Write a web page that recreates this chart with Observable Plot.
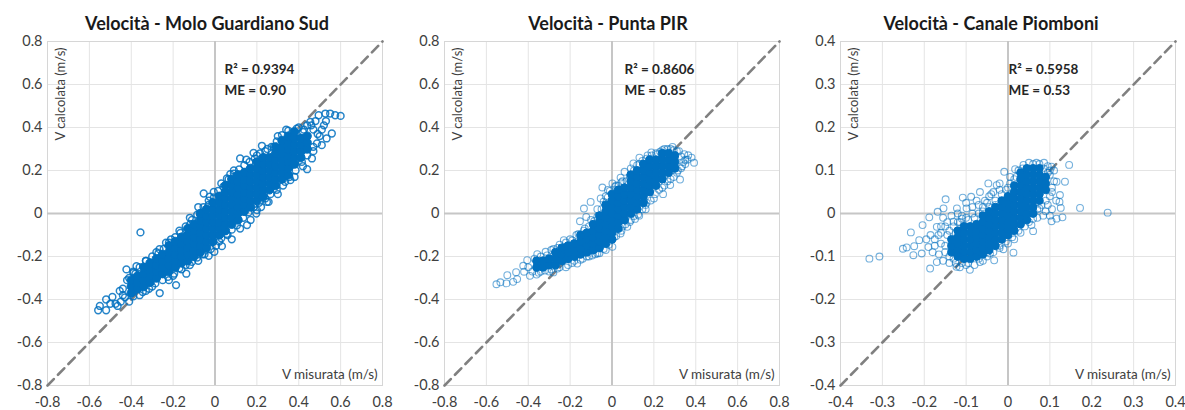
<!DOCTYPE html>
<html><head><meta charset="utf-8">
<script src="https://cdn.jsdelivr.net/npm/d3@7"></script>
<script src="https://cdn.jsdelivr.net/npm/@observablehq/plot@0.6"></script>
<style>html,body{margin:0;background:#fff;width:1185px;height:410px;overflow:hidden}
#c{position:relative;width:1185px;height:410px}#c svg{position:absolute;top:0;overflow:visible;background:transparent}</style>
</head><body><div id="c"></div>
<script>
const titles = ["Velocità - Molo Guardiano Sud","Velocità - Punta PIR","Velocità - Canale Piomboni"];
const r2Labels = ["R² = 0.9394","R² = 0.8606","R² = 0.5958"];
const meLabels = ["ME = 0.90","ME = 0.85","ME = 0.53"];
const ticksWide = [-0.8,-0.6,-0.4,-0.2,0,0.2,0.4,0.6,0.8];
const ticksNarrow = [-0.4,-0.3,-0.2,-0.1,0,0.1,0.2,0.3,0.4];

// dense cores: x value, then the y values read along that column
const moloCore = [
[-.40,[-.37,-.34,-.31]],[-.37,[-.35,-.32,-.29]],[-.34,[-.34,-.31,-.28,-.25]],[-.31,[-.32,-.29,-.26,-.23]],
[-.28,[-.30,-.27,-.24,-.21]],[-.25,[-.28,-.25,-.22,-.19]],[-.22,[-.27,-.24,-.21,-.18,-.15]],[-.19,[-.25,-.22,-.19,-.16,-.13]],
[-.16,[-.23,-.20,-.17,-.14,-.11]],[-.13,[-.22,-.19,-.16,-.13,-.10,-.07]],[-.10,[-.20,-.17,-.14,-.11,-.08,-.05]],
[-.07,[-.18,-.15,-.12,-.09,-.06,-.03,0]],[-.04,[-.16,-.13,-.10,-.07,-.04,-.01,.02]],[-.01,[-.13,-.10,-.07,-.04,-.01,.02,.05]],
[.02,[-.10,-.07,-.04,-.01,.02,.05,.08]],[.05,[-.08,-.05,-.02,.01,.04,.07,.10,.13]],[.08,[-.05,-.02,.01,.04,.07,.10,.13,.16]],
[.11,[-.03,0,.03,.06,.09,.12,.15,.18]],[.14,[.01,.04,.07,.10,.13,.16,.19]],[.17,[.03,.06,.09,.12,.15,.18,.21]],
[.20,[.06,.09,.12,.15,.18,.21,.24]],[.23,[.08,.11,.14,.17,.20,.23,.26]],[.26,[.11,.14,.17,.20,.23,.26]],
[.29,[.13,.16,.19,.22,.25,.28,.31]],[.32,[.16,.19,.22,.25,.28,.31,.34]],[.35,[.18,.21,.24,.27,.30,.33,.36]],
[.38,[.23,.26,.29,.32,.35,.38]],[.41,[.26,.29,.32,.35]],[.44,[.30,.33,.36]]];
const moloRing = [[-.558,-.45],[-.55,-.43],[-.52,-.45],[-.52,-.40],[-.49,-.388],[-.475,-.42],[-.465,-.43],[-.455,-.36],[-.423,-.26],[-.375,-.245],[-.356,-.088],[-.41,-.30],[-.39,-.276],[-.264,-.37],[-.265,-.166],[-.234,-.136],[-.118,-.05],[-.07,-.008],[-.186,-.333],[-.137,-.28],[-.03,-.197],[-.003,-.178],[.033,-.152],[.08,-.12],[.153,-.054],[.197,0],[.256,.054],[.6,.454],[.574,.457],[.55,.465],[.527,.465],[.495,.457],[.558,.372],[.533,.349],[.51,.318],[.463,.256],[.44,.206],[.12,.256],[.224,.315],[.184,.282],[.28,.31],[.057,.163],[.073,.183],[-.054,.093],[-.006,.1],[-.025,.078],[.375,.38],[.455,.426],[.36,.155],[.335,.147],[.248,.054],[.2,.016],[.487,.326],
[-.43,-.39],[-.44,-.35],[-.41,-.41],[-.45,-.41],[-.5,-.42],[-.36,-.38],[-.33,-.36],[-.3,-.34],[-.22,-.31],[-.2,-.29],[-.16,-.26],[-.12,-.24],[-.08,-.22],[-.05,-.19],[.02,-.13],[.06,-.1],[.12,-.07],[.17,-.03],[.22,.03],[.3,.09],[.38,.17],[.42,.22],[.47,.29],[.5,.36],[.47,.39],[.52,.41],[.44,.41],[.4,.4],[.34,.39],[.3,.36],[.25,.3],[.2,.27],[.15,.25],[.09,.2],[.03,.14],[-.03,.06],[-.08,.03],[-.12,-.02],[-.17,-.08],[-.21,-.12],[-.28,-.18],[-.33,-.22],[-.38,-.28],
[-.42,-.31],[-.39,-.27],[-.36,-.25],[-.33,-.22],[-.3,-.2],[-.27,-.185],[-.245,-.165],[-.22,-.135],[-.19,-.11],[-.165,-.09],[-.14,-.06],[-.11,-.03],[-.085,-.005],[-.055,.03],[-.03,.04],[-.005,.075],[.015,.105],[.04,.125],[.065,.16],[.09,.185],[.115,.205],[.14,.225],[.165,.24],[.19,.255],[.215,.28],[.24,.29],[.27,.31],[.295,.335],[.32,.365],[.35,.385],[.39,.395],[.425,.39],[.46,.41],
[-.44,-.38],[-.39,-.385],[-.345,-.365],[-.315,-.35],[-.285,-.325],[-.25,-.31],[-.225,-.295],[-.195,-.28],[-.17,-.255],[-.14,-.24],[-.11,-.225],[-.085,-.205],[-.06,-.19],[-.02,-.165],[.005,-.15],[.03,-.115],[.055,-.095],[.08,-.075],[.105,-.055],[.135,-.02],[.16,.005],[.185,.03],[.21,.05],[.24,.07],[.265,.09],[.295,.11],[.325,.13],[.355,.17],[.385,.2],[.415,.24],[.44,.27],[.47,.31],[.49,.37],[.51,.39],[.48,.43],[.53,.43],[.42,.38]];

const pirCore = [
[-.36,[-.25,-.22]],[-.33,[-.25,-.22]],[-.30,[-.24,-.21]],[-.27,[-.24,-.21,-.18]],[-.24,[-.22,-.19,-.16]],[-.21,[-.21,-.18,-.15]],
[-.18,[-.20,-.17,-.14]],[-.15,[-.19,-.16,-.13,-.10]],[-.12,[-.18,-.15,-.12,-.09]],[-.09,[-.17,-.14,-.11,-.08,-.05]],
[-.06,[-.16,-.13,-.10,-.07,-.04,-.01]],[-.03,[-.14,-.11,-.08,-.05,-.02,.01,.04]],[0,[-.12,-.09,-.06,-.03,0,.03,.06,.09]],
[.03,[-.07,-.04,-.01,.02,.05,.08,.11]],[.06,[-.03,0,.03,.06,.09,.12]],[.09,[0,.03,.06,.09,.12,.15,.18]],
[.12,[.02,.05,.08,.11,.14,.17,.20]],[.15,[.05,.08,.11,.14,.17,.20,.23]],[.18,[.10,.13,.16,.19,.22,.25]],
[.21,[.13,.16,.19,.22,.25]],[.24,[.16,.19,.22,.25,.28]],[.27,[.19,.22,.25,.28]],[.30,[.21,.24,.27]]];
const pirRing = [[-.552,-.329],[-.533,-.32],[-.504,-.325],[-.50,-.287],[-.472,-.318],[-.453,-.305],[-.458,-.273],[-.42,-.271],[-.424,-.243],[-.405,-.217],[-.392,-.29],[-.36,-.284],[-.357,-.189],[-.317,-.178],[-.28,-.274],[-.23,-.124],[-.153,-.036],[-.134,.023],[-.102,.054],[-.123,-.016],[-.046,.121],[.002,.14],[-.054,.07],[.041,.167],[.06,.194],[.102,.233],[.131,.26],[.188,.284],[.23,.287],[.289,.31],[.345,.276],[.364,.271],[.392,.236],[.325,.158],[.278,.132],[.244,.09],[.161,.02],[.105,-.012],[.073,-.062],[.041,-.093],[.002,-.155],[-.07,-.186],[-.166,-.233],[-.26,-.256],
[-.38,-.27],[-.4,-.25],[-.37,-.21],[-.34,-.27],[-.3,-.27],[-.29,-.17],[-.26,-.16],[-.22,-.25],[-.19,-.23],[-.2,-.12],[-.17,-.1],[-.14,-.21],[-.11,-.2],[-.13,-.07],[-.1,-.03],[-.07,.02],[-.08,-.19],[-.03,-.17],[-.03,.08],[-.02,.11],[.02,.13],[.01,-.11],[.05,-.06],[.09,-.03],[.13,-.01],[.16,.04],[.2,.07],[.24,.12],[.28,.16],[.31,.19],[.34,.24],[.33,.21],[.36,.25],[.32,.29],[.28,.3],[.25,.3],[.21,.28],[.17,.27],[.13,.23],[.09,.21],[.05,.15],
[-.34,-.2],[-.31,-.195],[-.28,-.165],[-.25,-.145],[-.22,-.135],[-.19,-.125],[-.16,-.095],[-.135,-.08],[-.11,-.06],[-.085,-.035],[-.07,-.015],[-.05,.02],[-.04,.055],[-.02,.075],[-.01,.105],[.015,.125],[.03,.13],[.045,.145],[.07,.15],[.085,.17],[.105,.2],[.12,.225],[.145,.245],[.165,.255],[.19,.27],[.215,.275],[.24,.295],[.265,.3],[.295,.295],[.31,.29],[.33,.265],[.35,.25],[.38,.26],
[-.35,-.275],[-.32,-.265],[-.29,-.26],[-.25,-.25],[-.21,-.24],[-.18,-.22],[-.15,-.215],[-.12,-.2],[-.095,-.195],[-.06,-.185],[-.04,-.165],[-.015,-.145],[.02,-.105],[.045,-.08],[.065,-.05],[.085,-.04],[.11,-.025],[.125,-.005],[.145,.02],[.165,.05],[.185,.06],[.205,.09],[.225,.11],[.25,.13],[.265,.15],[.295,.17],[.315,.2],[.335,.22],[.35,.23]];

const piomCore = [
[-.135,[-.09,-.075,-.06]],[-.12,[-.10,-.085,-.07,-.055,-.04]],[-.105,[-.105,-.09,-.075,-.06,-.045,-.03]],[-.09,[-.105,-.09,-.075,-.06,-.045,-.03]],
[-.075,[-.10,-.085,-.07,-.055,-.04,-.025]],[-.06,[-.095,-.08,-.065,-.05,-.035,-.02,-.005]],[-.045,[-.085,-.07,-.055,-.04,-.025,-.01,.005]],
[-.03,[-.075,-.06,-.045,-.03,-.015,0,.015]],[-.015,[-.06,-.045,-.03,-.015,0,.015,.03]],[0,[-.05,-.035,-.02,-.005,.01,.025,.04]],
[.015,[-.04,-.025,-.01,.005,.02,.035,.05,.065]],[.03,[-.025,-.01,.005,.02,.035,.05,.065,.08,.095]],[.045,[-.015,0,.015,.03,.045,.06,.075,.09,.105]],
[.06,[0,.015,.03,.045,.06,.075,.09,.105]],[.075,[.03,.045,.06,.075,.09,.105]],[.09,[.055,.07,.085]]];
const piomRing = [[-.331,-.105],[-.307,-.10],[-.251,-.082],[-.242,-.079],[-.224,-.076],[-.226,-.097],[-.232,-.044],[-.212,-.062],[-.204,-.027],[-.188,-.009],[-.168,.004],[-.154,.012],[-.149,.033],[-.108,.037],[-.088,.039],[-.186,-.128],[-.17,-.113],[-.123,-.124],[-.091,-.131],[-.067,-.113],[-.033,-.109],[.013,-.091],[.06,-.041],[-.011,-.083],[-.047,.07],[-.027,.066],[-.009,.097],[.017,.103],[.037,.113],[.068,.118],[.086,.118],[.104,.109],[.146,.113],[.136,.074],[.124,.043],[.123,.027],[.126,.013],[.172,.013],[.238,.002],[.13,-.009],[.104,-.018],[.084,-.005],[.116,.074],[.116,-.012],[.056,-.027],[-.17,-.031],[-.166,-.05],[-.206,-.093],[-.19,-.078],[-.043,-.093],[-.099,.012],[-.122,.012],[-.13,-.019],[-.067,.05],
[-.16,-.07],[-.15,-.09],[-.155,-.11],[-.14,-.115],[-.13,-.105],[-.145,-.05],[-.13,-.03],[-.115,-.02],[-.1,-.01],[-.085,0],[-.07,.02],[-.055,.03],[-.04,.045],[-.02,.055],[.005,.07],[.02,.085],[.1,.09],[.105,.06],[.1,.04],[.095,.02],[.09,.005],[.075,.012],[.03,-.045],[.015,-.06],[0,-.07],[-.02,-.08],[-.05,-.1],[-.08,-.12],[-.11,-.115],[-.18,-.09],[-.175,-.06],[-.16,-.03],[.11,.1],[.085,.105],[.07,-.01],
[-.145,-.02],[-.135,-.005],[-.12,.0],[-.11,-.012],[-.1,.025],[-.085,.015],[-.075,.03],[-.06,.015],[-.05,.025],[-.045,.04],[-.03,.03],[-.035,.05],[-.015,.045],[-.02,.07],[-.005,.055],[0,.06],[.005,.085],[.015,.08],[.025,.1],[.035,.105],[.05,.118],[.06,.115],[.075,.115],[.095,.11],[.1,.1],[-.155,-.01],[-.16,-.045],[-.15,-.03],[-.14,-.04],[-.185,-.05],[-.195,-.06],[-.175,-.075],[-.165,-.095],[-.15,-.075],[-.14,-.1],[-.125,-.115],[-.115,-.125],[-.1,-.12],[-.095,-.115],[-.07,-.105],[-.06,-.11],[-.05,-.09],[-.035,-.09],[-.02,-.075],[-.005,-.065],[.01,-.055],[.025,-.04],[.04,-.03],[.05,-.02],[.06,-.012],[.07,.01],[.08,.02],[.09,.03],[.105,.05],[.11,.075],[.095,.095],[.115,.03],[.105,.01],[.1,-.005],[-.125,-.045],[-.12,-.02],[-.11,-.005],[-.095,-.015],[-.08,-.01],[-.07,0],[-.06,.005],[-.045,.015],[-.03,.02]];

const panels = [
 {i:0,left:0,max:.8,ticks:ticksWide,core:moloCore,ring:moloRing,sw:1.5,op:.85,titleDx:-8,noteDx:177,coreR:4.2},
 {i:1,left:397,max:.8,ticks:ticksWide,core:pirCore,ring:pirRing,sw:1.1,op:.55,titleDx:-4,noteDx:180,coreR:4},
 {i:2,left:793,max:.4,ticks:ticksNarrow,core:piomCore,ring:piomRing,sw:1.1,op:.55,titleDx:-17,noteDx:168,coreR:3.9}
];
const blue = "#0070c0", font = "Lato, 'Open Sans', sans-serif";
for (const p of panels) {
  const coreData = p.core.flatMap(([x, ys]) => ys.map(y => [x, y]));
  const fmt = d => d === 0 ? "0" : d.toFixed(1);
  const lim = [-p.max, p.max];
  const svg = Plot.plot({
    width: 395, height: 410, marginLeft: 47, marginRight: 13, marginTop: 41, marginBottom: 25,
    style: {fontFamily: font, background: "transparent", overflow: "visible"},
    x: {domain: lim, label: null},
    y: {domain: lim, label: null},
    marks: [
      Plot.gridX(p.ticks, {stroke: "#e4e4e4", strokeOpacity: 1, strokeWidth: 1}),
      Plot.gridY(p.ticks, {stroke: "#e4e4e4", strokeOpacity: 1, strokeWidth: 1}),
      Plot.frame({stroke: "#d6d6d6"}),
      Plot.ruleX([0], {stroke: "#c6c6c6", strokeWidth: 2}),
      Plot.ruleY([0], {stroke: "#c6c6c6", strokeWidth: 2}),
      Plot.axisX({ticks: p.ticks, tickFormat: fmt, tickSize: 0, tickPadding: 11, fontSize: 14.5, fill: "#404040", label: null}),
      Plot.axisY({ticks: p.ticks, tickFormat: fmt, tickSize: 0, tickPadding: 5, fontSize: 14.5, fill: "#404040", label: null}),
      Plot.line(lim.map(v => [v, v]), {stroke: "#808080", strokeWidth: 2.6, strokeDasharray: "9,6"}),
      Plot.dot(p.ring, {x: d => d[0], y: d => d[1], r: 3.4, stroke: blue, strokeWidth: p.sw, strokeOpacity: p.op, fill: "none"}),
      Plot.dot(coreData, {x: d => d[0], y: d => d[1], r: p.coreR, fill: blue, stroke: blue, strokeWidth: 1}),
      Plot.text([titles[p.i]], {frameAnchor: "top", dx: p.titleDx, dy: -24, fontSize: 18, fontWeight: 700, fill: "#1a1a1a"}),
      Plot.text([r2Labels[p.i]], {frameAnchor: "top-left", dx: p.noteDx, dy: 23, fontSize: 13.5, fontWeight: 700, fill: "#262626"}),
      Plot.text([meLabels[p.i]], {frameAnchor: "top-left", dx: p.noteDx, dy: 44, fontSize: 13.5, fontWeight: 700, fill: "#262626"}),
      Plot.text(["V calcolata (m/s)"], {frameAnchor: "top-left", rotate: -90, dx: 8, dy: 6, textAnchor: "end", fontSize: 13, fill: "#404040"}),
      Plot.text(["V misurata (m/s)"], {frameAnchor: "bottom-right", dx: -5, dy: -7, fontSize: 13.5, fill: "#404040"})
    ]
  });
  svg.style.left = p.left + "px";
  document.getElementById("c").appendChild(svg);
}
</script></body></html>
